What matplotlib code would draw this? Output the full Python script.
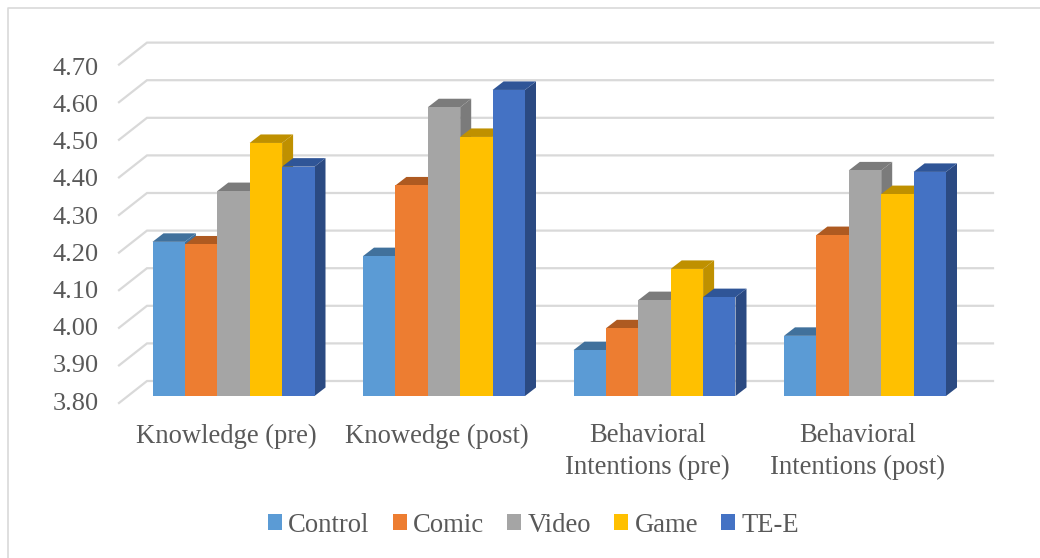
import matplotlib.pyplot as plt
from matplotlib.patches import Rectangle

categories = ['Knowledge (pre)', 'Knowedge (post)', 'Behavioral\nIntentions (pre)', 'Behavioral\nIntentions (post)']
series_names = ['Control', 'Comic', 'Video', 'Game', 'TE-E']
control = [4.21, 4.172, 3.922, 3.96]
comic = [4.203, 4.36, 3.98, 4.228]
video = [4.345, 4.568, 4.055, 4.40]
game = [4.473, 4.489, 4.138, 4.337]
tee = [4.41, 4.614, 4.063, 4.396]
ticks = [3.8, 3.9, 4.0, 4.1, 4.2, 4.3, 4.4, 4.5, 4.6, 4.7]

front_colors = ['#5b9bd5', '#ed7d31', '#a5a5a5', '#ffc000', '#4472c4']
top_colors = ['#41719c', '#ae5a21', '#7b7b7b', '#bf9000', '#2f5597']
side_colors = ['#41719c', '#ae5a21', '#7b7b7b', '#bf9000', '#2b4a82']
text_color = '#595959'
grid_color = '#d9d9d9'

plt.rcParams['font.family'] = ['Liberation Serif', 'DejaVu Serif']

W, H = 1040, 558
fig = plt.figure(figsize=(W / 100, H / 100), dpi=100)
ax = fig.add_axes([0, 0, 1, 1])
ax.axis('off')

# px scale of the chart: one category = 210.5 px, 0.1 units = 37.6 px
px_x = 1 / 210.5
px_y = 0.1 / 37.6
x0 = 233.5
y0 = 396
ax.set_xlim(-x0 * px_x, (W - x0) * px_x)
ax.set_ylim(3.8 - (H - y0) * px_y, 3.8 + y0 * px_y)

# floor and back wall offsets, relative to the plane of the bars
front_dx, front_dy = -114.5 * px_x, -7 * px_y
back_dx, back_dy = -86.5 * px_x, 15 * px_y
right_x = (993 - x0) * px_x

for i, t in enumerate(ticks):
    ax.plot([front_dx, back_dx, right_x], [t + front_dy, t + back_dy, t + back_dy],
            color=grid_color, lw=1.6, zorder=1, solid_joinstyle='miter')
    # labels are spaced a little tighter than the grid
    ax.text(-135 * px_x, 3.8 + (-7.5 + i * 37.2) * px_y, f'{t:.2f}', ha='right', va='center',
            fontsize=19, color=text_color)

# depth of the boxes
dx = 11 * px_x
dy = 8.5 * px_y
bar_w = 32.4 * px_x

values = [control, comic, video, game, tee]
z = 2
for c in range(len(categories)):
    for s in range(5):
        v = values[s][c]
        left = c + (s - 2.5) * bar_w
        right = left + bar_w
        ax.fill([right, right + dx, right + dx, right],
                [3.8, 3.8 + dy, v + dy, v], color=side_colors[s], lw=0, zorder=z)
        ax.fill([left, left + dx, right + dx, right],
                [v, v + dy, v + dy, v], color=top_colors[s], lw=0, zorder=z + 1)
        ax.bar(left, v - 3.8, bottom=3.8, width=bar_w, align='edge', color=front_colors[s],
               lw=0, zorder=z + 2)
        z += 3

for c, name in enumerate(categories):
    ax.text(c - 7 * px_x, 3.8 - 27.5 * px_y, name, ha='center', va='top', fontsize=19.2,
            color=text_color, linespacing=1.32)

handles = [Rectangle((0, 0), 1, 1, color=col, lw=0) for col in front_colors]
ax.legend(handles, series_names, loc='center', bbox_to_anchor=(533.5 / W, 1 - 525 / H),
          bbox_transform=fig.transFigure, ncol=5, frameon=False, fontsize=19.2,
          labelcolor=text_color, handlelength=0.52, handleheight=0.52, handletextpad=0.24,
          columnspacing=0.87, borderpad=0)

# chart border
fig.add_artist(plt.Line2D([7.5 / W, 7.5 / W, 1], [0, 1 - 7.5 / H, 1 - 7.5 / H],
                          color=grid_color, lw=1.2, transform=fig.transFigure))

fig.savefig('out.png', dpi=100)
